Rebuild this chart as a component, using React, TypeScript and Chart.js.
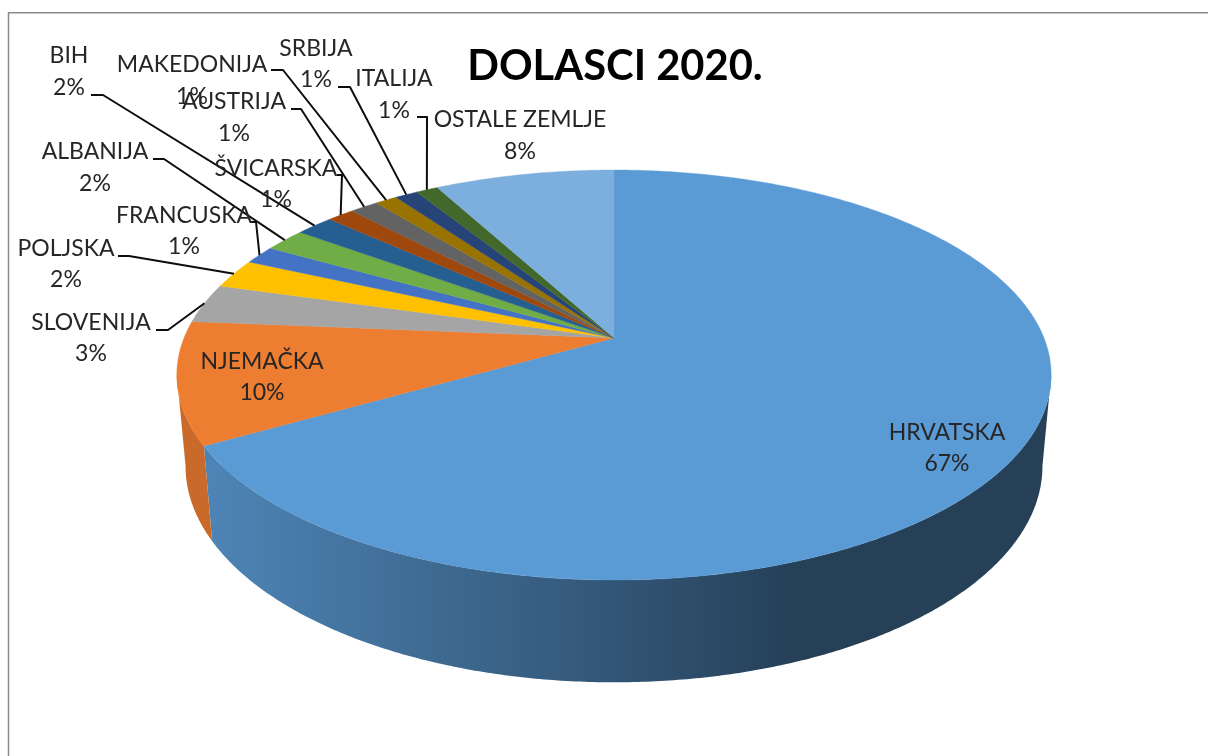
import React, { useEffect, useRef } from "react";
import { Chart, registerables } from "chart.js";

Chart.register(...registerables);

const categories = ["HRVATSKA", "NJEMAČKA", "SLOVENIJA", "POLJSKA", "FRANCUSKA", "ALBANIJA", "BIH", "ŠVICARSKA", "AUSTRIJA", "MAKEDONIJA", "SRBIJA", "ITALIJA", "OSTALE ZEMLJE"];
const shares = [66.7, 9.6, 3.1, 2.3, 1.45, 1.83, 1.67, 1.2, 1.25, 0.97, 1.0, 0.97, 7.9];
const colors = ["#5B9BD5", "#ED7D31", "#A5A5A5", "#FFC000", "#4472C4", "#70AD47", "#255E91", "#9E480E", "#636363", "#997300", "#264478", "#43682B", "#7CAFDD"];

// Label centres (name line, percentage line is below it), same order as categories
const labelX = [947, 262, 91, 66, 184, 95, 69, 276, 234, 192, 316, 394, 520];
const nameY = [433, 362, 323, 249, 216, 152, 56, 169, 102, 65, 49, 79, 120];
const pctY = [464, 393, 354, 280, 247, 184, 88, 200, 134, 97, 80, 111, 152];

// Leader-line starting polylines by category (the end is computed from the slice)
const leaders: Record<string, number[][]> = {
  SLOVENIJA: [[156, 330], [168, 330]],
  POLJSKA: [[118, 256], [129, 256]],
  FRANCUSKA: [[250, 222], [256, 222]],
  ALBANIJA: [[153, 159], [164, 159]],
  BIH: [[91, 95], [103, 95]],
  "ŠVICARSKA": [[337, 175], [342, 175]],
  AUSTRIJA: [[291, 109], [301, 109]],
  MAKEDONIJA: [[271, 70], [283, 70]],
  SRBIJA: [[338, 87], [350, 87]],
  ITALIJA: [[417, 117], [427, 117]],
};

// Perspective of the top face
const CX = 614;
const APEX_Y = 338;
const RX = 430;
const K = -0.1805;
const A = 137.3;
const WIDEST = 0.18; // angle at which the rim is widest

const topPoint = (angle: number) => {
  const u = Math.cos(angle);
  const v = Math.sin(angle);
  const d = 1 + K * v;
  return { x: CX + (RX * u) / d, y: (A * v + APEX_Y) / d };
};
const lowPoint = (angle: number) => {
  const p = topPoint(angle);
  return { x: CX + 0.98 * (p.x - CX), y: 1.054 * p.y + 71 };
};
const shade = (hex: string, f: number) => {
  const n = parseInt(hex.slice(1), 16);
  return `rgb(${Math.round(((n >> 16) & 255) * f)},${Math.round(((n >> 8) & 255) * f)},${Math.round((n & 255) * f)})`;
};

const FONT = "Lato, Carlito, sans-serif";

const pie3d = {
  id: "pie3d",
  beforeDatasetsDraw(chart: any) {
    const ctx: CanvasRenderingContext2D = chart.ctx;
    const arcs = chart.getDatasetMeta(0).data as any[];
    const total = shares.reduce((a, b) => a + b, 0);
    ctx.save();

    // frame
    ctx.strokeStyle = "#8a8a8a";
    ctx.lineWidth = 1.5;
    ctx.beginPath();
    ctx.moveTo(8.5, 760);
    ctx.lineTo(8.5, 12.75);
    ctx.lineTo(1210, 12.75);
    ctx.stroke();

    // side wall: one polygon per visible slice, shaded left to right
    const step = Math.PI / 360;
    arcs.forEach((arc, i) => {
      const from = Math.max(arc.startAngle, WIDEST);
      const to = Math.min(arc.endAngle, Math.PI - WIDEST);
      if (to <= from) return;
      const g = ctx.createLinearGradient(215, 0, 800, 0);
      g.addColorStop(0, shade(colors[i], 0.85));
      g.addColorStop(0.69, shade(colors[i], 0.55));
      g.addColorStop(1, shade(colors[i], 0.41));
      ctx.fillStyle = g;
      ctx.beginPath();
      const angles: number[] = [];
      for (let a = from; a < to; a += step) angles.push(a);
      angles.push(to);
      angles.forEach((a, k) => {
        const p = topPoint(a);
        k ? ctx.lineTo(p.x, p.y) : ctx.moveTo(p.x, p.y);
      });
      angles.slice().reverse().forEach((a) => {
        const q = lowPoint(a);
        ctx.lineTo(q.x, q.y);
      });
      ctx.closePath();
      ctx.fill();
    });
    // top face
    arcs.forEach((arc, i) => {
      ctx.fillStyle = colors[i];
      ctx.strokeStyle = colors[i];
      ctx.lineWidth = 0.4;
      ctx.beginPath();
      ctx.moveTo(CX, APEX_Y);
      for (let a = arc.startAngle; a < arc.endAngle; a += step) {
        const p = topPoint(a);
        ctx.lineTo(p.x, p.y);
      }
      const e = topPoint(arc.endAngle);
      ctx.lineTo(e.x, e.y);
      ctx.closePath();
      ctx.fill();
      ctx.stroke();
    });

    // leader lines
    ctx.strokeStyle = "#0d0d0d";
    ctx.lineWidth = 2;
    ctx.lineJoin = "round";
    arcs.forEach((arc, i) => {
      const pts = leaders[categories[i]];
      if (!pts) return;
      const end = topPoint((arc.startAngle + arc.endAngle) / 2);
      ctx.beginPath();
      pts.forEach((p, k) => (k ? ctx.lineTo(p[0], p[1]) : ctx.moveTo(p[0], p[1])));
      ctx.lineTo(end.x, end.y);
      ctx.stroke();
    });

    // labels
    ctx.fillStyle = "#262626";
    ctx.font = `23px ${FONT}`;
    ctx.textAlign = "center";
    ctx.textBaseline = "middle";
    categories.forEach((name, i) => {
      ctx.fillText(name, labelX[i], nameY[i]);
      ctx.fillText(`${Math.round((shares[i] / total) * 100)}%`, labelX[i], pctY[i]);
    });
    ctx.restore();
    return false;
  },
};

export default function App() {
  const ref = useRef<HTMLCanvasElement>(null);
  useEffect(() => {
    const chart = new Chart(ref.current as HTMLCanvasElement, {
      type: "pie",
      data: {
        labels: categories,
        datasets: [{ data: shares, backgroundColor: colors, borderWidth: 0 }],
      },
      options: {
        animation: false,
        responsive: false,
        layout: { padding: { left: 22 } },
        plugins: {
          legend: { display: false },
          tooltip: { enabled: false },
          title: {
            display: true,
            text: "DOLASCI 2020.",
            color: "#000000",
            font: { family: FONT, size: 41.7, weight: "bold" },
            padding: { top: 42, bottom: 0 },
          },
        },
      },
      plugins: [pie3d],
    } as any);
    return () => chart.destroy();
  }, []);
  return (
    <canvas
      ref={ref}
      width={1208}
      height={756}
      style={{ position: "fixed", left: 0, top: 0, display: "block", background: "#fff" }}
    />
  );
}
